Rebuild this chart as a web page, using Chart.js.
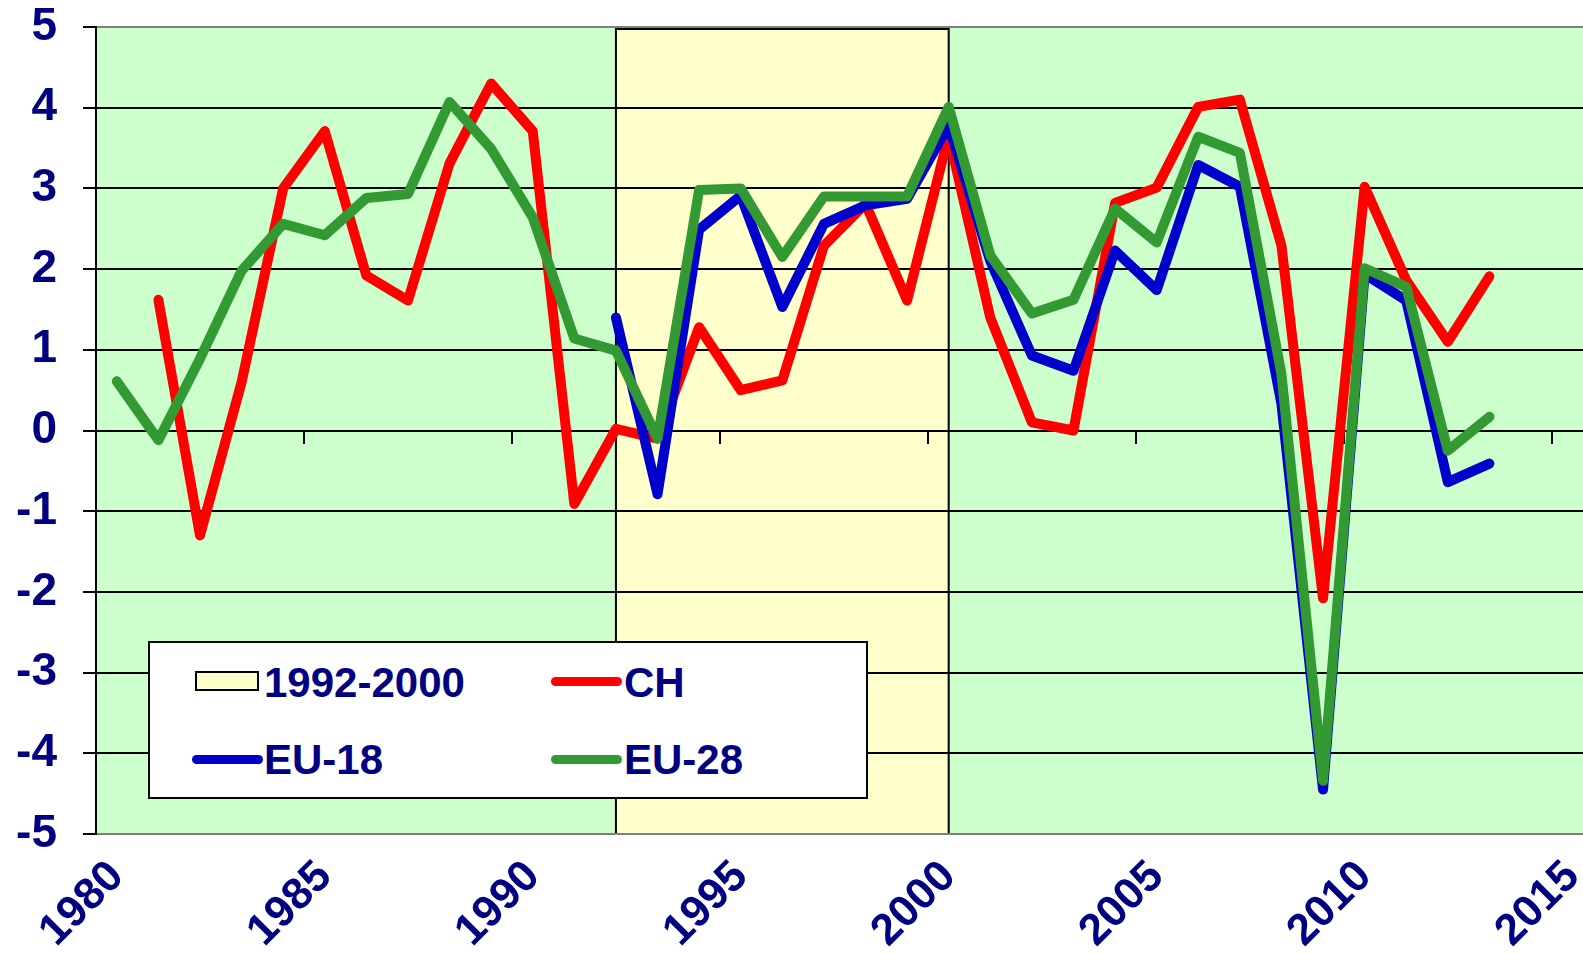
<!DOCTYPE html>
<html>
<head>
<meta charset="utf-8">
<title>CH / EU-18 / EU-28</title>
<script src="https://cdn.jsdelivr.net/npm/chart.js@4.4.1/dist/chart.umd.min.js"></script>
<style>
  html, body { margin: 0; padding: 0; background: #fff; overflow: hidden; }
  #wrap { position: relative; width: 1583px; height: 953px; }
  #legend {
    position: absolute; left: 148px; top: 641px; width: 716px; height: 154px;
    border: 2px solid #000; background: #fff;
    font: bold 42px "Liberation Sans", Arial, sans-serif; color: #000080;
  }
  .lg-text { position: absolute; height: 46px; line-height: 46px; white-space: nowrap; }
  .lg-line { position: absolute; width: 71px; height: 9px; border-radius: 4.5px; }
  .lg-box { position: absolute; width: 64px; height: 20px; box-sizing: border-box; border: 2px solid #000; }
</style>
</head>
<body>
<div id="wrap">
  <canvas id="chart" width="1583" height="953"></canvas>
  <div id="legend"></div>
</div>
<script>
// jährliche Werte, 1980-2013 (null = keine Daten)
const years = [];
for (let y = 1980; y <= 2013; y++) years.push(y);

const ch = [null, 1.62, -1.30, 0.60, 3.00, 3.71, 1.92, 1.61, 3.31, 4.30,
  3.71, -0.91, 0.02, -0.10, 1.28, 0.50, 0.62, 2.29, 2.81, 1.61,
  3.66, 1.40, 0.10, 0.00, 2.82, 3.01, 4.01, 4.10, 2.29, -2.08,
  3.02, 1.86, 1.10, 1.91];

const eu18 = [null, null, null, null, null, null, null, null, null, null,
  null, null, 1.40, -0.79, 2.49, 2.91, 1.53, 2.56, 2.79, 2.87,
  3.78, 2.10, 0.93, 0.74, 2.23, 1.74, 3.29, 3.02, 0.33, -4.45,
  1.94, 1.61, -0.64, -0.41];

const eu28 = [0.61, -0.12, 0.89, 1.98, 2.56, 2.42, 2.88, 2.93, 4.07, 3.49,
  2.64, 1.14, 0.99, -0.10, 2.98, 3.00, 2.15, 2.90, 2.90, 2.90,
  4.01, 2.17, 1.45, 1.62, 2.75, 2.33, 3.64, 3.44, 0.70, -4.34,
  2.01, 1.78, -0.25, 0.17];

const band = [1992, 2000];
const bandLabel = '1992-2000';
const seriesNames = ['CH', 'EU-18', 'EU-28'];
const seriesColors = ['#ff0000', '#0000cc', '#339933'];

const xTicks = [1980, 1985, 1990, 1995, 2000, 2005, 2010, 2015];
const yTicks = [-5, -4, -3, -2, -1, 0, 1, 2, 3, 4, 5];

const MID = 0.5; // Jahreswerte in der Mitte des Jahres
const NAVY = '#000080';
const FONT = '"Liberation Sans", Arial, sans-serif';

function toPoints(values) {
  return values.map((v, i) => ({ x: years[i] + MID, y: v }));
}

const bgPlugin = {
  id: 'bg',
  beforeDraw(chart) {
    const { ctx, chartArea, scales } = chart;
    ctx.save();
    ctx.fillStyle = '#ccffcc';
    ctx.fillRect(chartArea.left, chartArea.top, chartArea.width, chartArea.height);
    const x1 = scales.x.getPixelForValue(band[0] + MID);
    const x2 = scales.x.getPixelForValue(band[1] + MID);
    const yTop = scales.y.getPixelForValue(yTicks[yTicks.length - 1]);
    const yBot = scales.y.getPixelForValue(yTicks[0]);
    ctx.fillStyle = '#ffffcc';
    ctx.fillRect(x1, yTop, x2 - x1, yBot - yTop);
    ctx.strokeStyle = '#000';
    ctx.lineWidth = 2;
    ctx.strokeRect(x1, yTop + 2, x2 - x1, yBot - yTop - 2);
    ctx.restore();
  }
};

const series = [ch, eu18, eu28];
const datasets = series.map((values, i) => ({
  label: seriesNames[i],
  data: toPoints(values),
  borderColor: seriesColors[i],
  backgroundColor: seriesColors[i],
  borderWidth: 10,
  borderCapStyle: 'round',
  borderJoinStyle: 'round',
  pointRadius: 0,
  spanGaps: false,
  order: series.length - i
}));

new Chart(document.getElementById('chart'), {
  type: 'line',
  data: { datasets },
  plugins: [bgPlugin],
  options: {
    responsive: false,
    animation: false,
    devicePixelRatio: 1,
    layout: { padding: { top: 27, left: 0, right: 0, bottom: 0 } },
    plugins: { legend: { display: false }, tooltip: { enabled: false } },
    scales: {
      x: {
        type: 'linear',
        position: 'bottom',
        min: xTicks[0],
        max: xTicks[xTicks.length - 1] + 0.75,
        grid: { display: false },
        border: { display: true, color: '#808080', width: 2 },
        afterBuildTicks: s => { s.ticks = xTicks.map(v => ({ value: v })); },
        afterFit: s => { s.height = 119; s.paddingLeft = 0; s.paddingRight = 0; },
        ticks: {
          autoSkip: false,
          minRotation: 45,
          maxRotation: 45,
          labelOffset: 21,
          padding: 9,
          color: NAVY,
          font: { family: FONT, size: 44, weight: 'bold' },
          callback: v => String(v)
        }
      },
      x2: {
        type: 'linear',
        position: { y: 0 },
        min: xTicks[0],
        max: xTicks[xTicks.length - 1] + 0.75,
        afterBuildTicks: s => { s.ticks = xTicks.map(v => ({ value: v })); },
        grid: { drawOnChartArea: false, drawTicks: true, tickLength: 13, color: '#000', lineWidth: 2 },
        border: { display: false },
        ticks: { display: false }
      },
      y: {
        min: yTicks[0],
        max: yTicks[yTicks.length - 1],
        afterBuildTicks: s => { s.ticks = yTicks.map(v => ({ value: v })); },
        afterFit: s => { s.width = 96; s.paddingTop = 0; s.paddingBottom = 0; },
        grid: {
          color: c => (Math.abs(c.tick.value) === 5 ? '#808080' : '#000'),
          tickColor: '#000',
          lineWidth: 2,
          tickLength: 13
        },
        border: { color: '#000', width: 2 },
        ticks: {
          padding: 26,
          color: NAVY,
          font: { family: FONT, size: 46, weight: 'bold' },
          callback: v => String(v)
        }
      }
    }
  }
});

// Legende (Excel-Stil, im Diagramm unten links)
const legend = document.getElementById('legend');
const slots = [
  { sx: 45, sy: 28, tx: 114, ty: 17 },
  { sx: 401, sy: 34, tx: 474, ty: 17 },
  { sx: 42, sy: 112, tx: 114, ty: 94 },
  { sx: 401, sy: 112, tx: 474, ty: 94 }
];
const entries = [{ label: bandLabel, box: true }].concat(
  seriesNames.map((n, i) => ({ label: n, color: seriesColors[i] }))
);
entries.forEach((e, i) => {
  const s = slots[i];
  const sym = document.createElement('div');
  if (e.box) {
    sym.className = 'lg-box';
    sym.style.background = '#ffffcc';
  } else {
    sym.className = 'lg-line';
    sym.style.background = e.color;
  }
  sym.style.left = s.sx + 'px';
  sym.style.top = s.sy + 'px';
  legend.appendChild(sym);
  const t = document.createElement('div');
  t.className = 'lg-text';
  t.textContent = e.label;
  t.style.left = s.tx + 'px';
  t.style.top = s.ty + 'px';
  legend.appendChild(t);
});
</script>
</body>
</html>
